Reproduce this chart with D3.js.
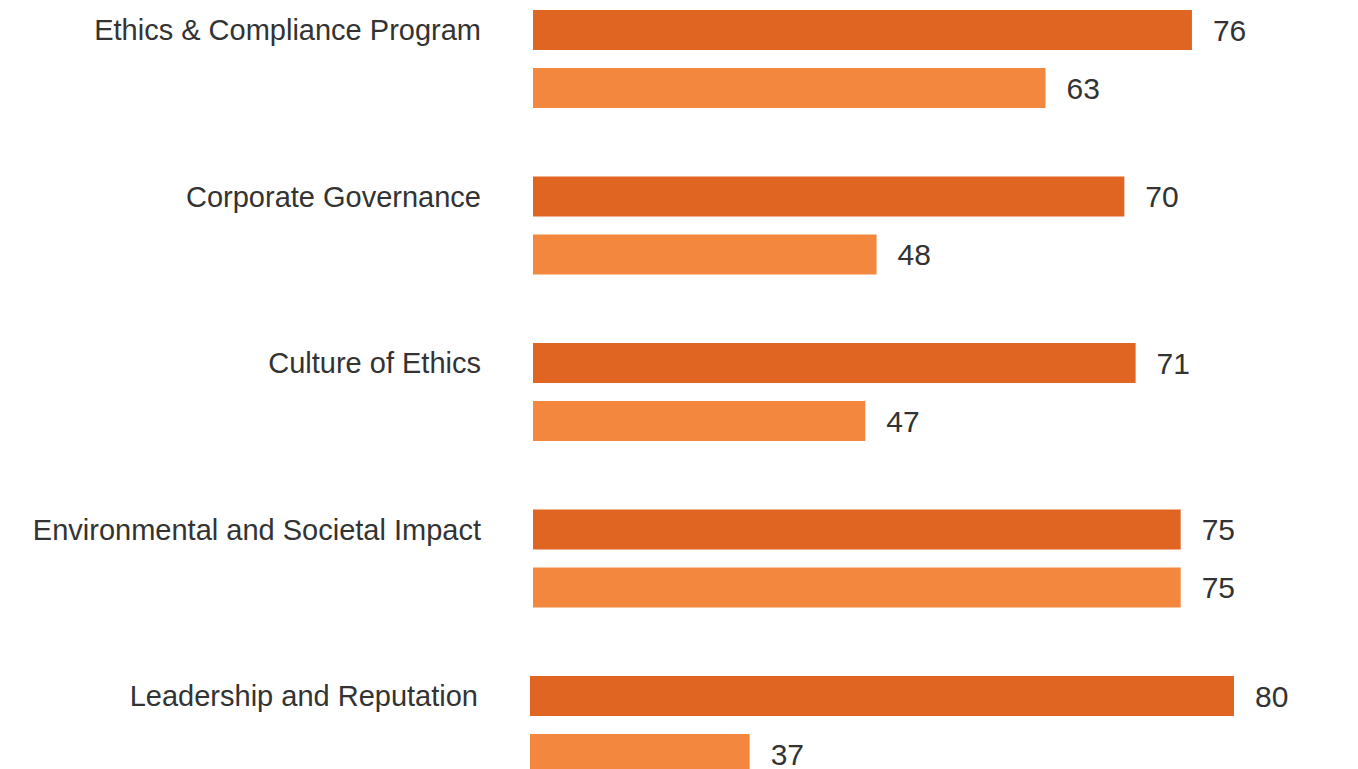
<!DOCTYPE html>
<html>
<head>
<meta charset="utf-8">
<script src="https://cdn.jsdelivr.net/npm/d3@7"></script>
<style>
  html, body { margin: 0; padding: 0; background: #fff; }
  svg { display: block; }
  text { font-family: "Liberation Sans", Arial, Helvetica, sans-serif; }
</style>
</head>
<body>
<svg id="chart" width="1358" height="769"></svg>
<script>
const categories = [
  "Ethics & Compliance Program",
  "Corporate Governance",
  "Culture of Ethics",
  "Environmental and Societal Impact",
  "Leadership and Reputation"
];
const seriesA = [76, 70, 71, 75, 80];
const seriesB = [63, 48, 47, 75, 37];

const svg = d3.select("#chart");

const x = d3.scaleLinear().domain([17.5, 80]).range([533, 1237]);
const y = d3.scaleBand().domain(categories).range([10, 10 + 5 * 166.5]).paddingInner(0);
const barH = 40, gap = 58;
const colA = "#E06522", colB = "#F3873D";

const rows = categories.map((c, i) => ({ c, a: seriesA[i], b: seriesB[i], i }));

const g = svg.append("g");

const row = g.selectAll("g.row").data(rows).enter().append("g")
  .attr("class", "row")
  .attr("transform", d => `translate(${d.i === 4 ? -3 : 0},${y(d.c)})`);

row.append("rect")
  .attr("x", x(17.5)).attr("y", 0)
  .attr("width", d => x(d.a) - x(17.5)).attr("height", barH)
  .attr("fill", colA);

row.append("rect")
  .attr("x", x(17.5)).attr("y", gap)
  .attr("width", d => x(d.b) - x(17.5)).attr("height", barH)
  .attr("fill", colB);

row.append("text")
  .attr("x", x(17.5) - 52).attr("y", barH / 2)
  .attr("dy", "0.35em")
  .attr("text-anchor", "end")
  .attr("font-size", 29)
  .attr("fill", "#333")
  .text(d => d.c);

row.append("text")
  .attr("x", d => x(d.a) + 21).attr("y", barH / 2)
  .attr("dy", "0.35em")
  .attr("font-size", 30)
  .attr("fill", "#333")
  .text(d => d.a);

row.append("text")
  .attr("x", d => x(d.b) + 21).attr("y", gap + barH / 2)
  .attr("dy", "0.35em")
  .attr("font-size", 30)
  .attr("fill", "#333")
  .text(d => d.b);
</script>
</body>
</html>
